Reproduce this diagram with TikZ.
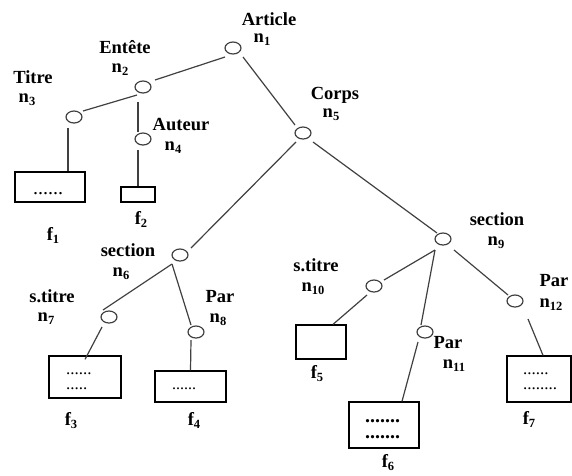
\documentclass[tikz,border=0pt]{standalone}
\usepackage{fontspec}
\setmainfont{Liberation Serif}
\usetikzlibrary{shapes.geometric}

\tikzset{
  vertex/.style={ellipse, draw=black!75, line width=1.2pt,
                 minimum width=16pt, minimum height=12pt, inner sep=0pt},
  leafbox/.style={draw=black, line width=1.3pt, inner sep=0pt},
  edge/.style={draw=black!75, line width=1.2pt},
  lbl/.style={anchor=base, inner sep=0pt,
              font=\fontsize{18.5}{20}\selectfont\bfseries},
  dotfill/.style={anchor=base west, inner sep=0pt,
                  font=\fontsize{#1}{#1}\selectfont},
  dotpair/.style={anchor=west, inner sep=0pt, align=left},
}
% label with a lowered index, e.g. n_1
\newcommand\idx[2]{#1\raisebox{-3.5pt}{\fontsize{12.5}{13}\selectfont #2}}

\begin{document}
\begin{tikzpicture}[x=1pt,y=-1pt]
\useasboundingbox (0,0) rectangle (572,475);

% tree vertices
\node[vertex] (n1)  at (233,48)  {};
\node[vertex] (n2)  at (143,87)  {};
\node[vertex] (n3)  at (74,117)  {};
\node[vertex] (n4)  at (143,139) {};
\node[vertex] (n5)  at (303,133) {};
\node[vertex] (n6)  at (180,255) {};
\node[vertex] (n7)  at (109,317) {};
\node[vertex] (n8)  at (196,332) {};
\node[vertex] (n9)  at (443,239) {};
\node[vertex] (n10) at (374,286) {};
\node[vertex] (n11) at (425,332) {};
\node[vertex] (n12) at (515,301) {};

% leaf contents
\node[leafbox, minimum width=70pt, minimum height=30pt] (f1) at (50,187)    {};
\node[leafbox, minimum width=34pt, minimum height=15pt] (f2) at (138,194.5) {};
\node[leafbox, minimum width=72pt, minimum height=42pt] (f3) at (85,377)    {};
\node[leafbox, minimum width=71pt, minimum height=31pt] (f4) at (190.5,386.5) {};
\node[leafbox, minimum width=50pt, minimum height=34pt] (f5) at (321,342)   {};
\node[leafbox, minimum width=70pt, minimum height=46pt] (f6) at (384,425)   {};
\node[leafbox, minimum width=64pt, minimum height=46pt] (f7) at (539,379)   {};

% dotted text inside the boxes
\node[dotfill=20] (d1) at (33,194)  {......};
\node[dotfill=16] (d4) at (172,389) {......};
\node[dotpair, font=\fontsize{17}{15}\selectfont] (d3) at (66,381)
  {......\\.....};
\node[dotpair, font=\fontsize{20}{16}\selectfont\bfseries] (d6) at (365,429)
  {.......\\.......};
\node[dotpair, font=\fontsize{17}{15}\selectfont] (d7) at (523,381)
  {......\\........};

% tree edges
\draw[edge] ([shift={(-8,9)}]n1.center)  -- ([shift={(12,-7)}]n2.center);
\draw[edge] ([shift={(10,9)}]n1.center)  -- ([shift={(-8,-8)}]n5.center);
\draw[edge] ([shift={(-6,8)}]n2.center)  -- ([shift={(9,-6)}]n3.center);
\draw[edge] ([shift={(-5,15)}]n2.center) -- ([shift={(-5,-7)}]n4.center);
\draw[edge] ([shift={(-7,9)}]n5.center)  -- ([shift={(11,-7)}]n6.center);
\draw[edge] ([shift={(10,9)}]n5.center)  -- ([shift={(-6,-6)}]n9.center);
\draw[edge] ([shift={(-8,9)}]n6.center)  -- ([shift={(-6,-7)}]n7.center);
\draw[edge] ([shift={(-8,9)}]n6.center)  -- ([shift={(-5,-7)}]n8.center);
\draw[edge] ([shift={(-8,11)}]n9.center) -- ([shift={(10,-6)}]n10.center);
\draw[edge] ([shift={(-8,11)}]n9.center) -- ([shift={(-4,-7)}]n11.center);
\draw[edge] ([shift={(11,11)}]n9.center) -- ([shift={(-7,-6)}]n12.center);

% edges down to the leaf boxes
\draw[edge] ([shift={(-6,11)}]n3.center)  -- ([shift={(18,0)}]f1.north);
\draw[edge] ([shift={(-5,11)}]n4.center)  -- (f2.north);
\draw[edge] ([shift={(-7,10)}]n7.center)  -- ([shift={(0,4)}]f3.north);
\draw[edge] ([shift={(-5,8)}]n8.center)   -- (f4.north);
\draw[edge] ([shift={(-7,9)}]n10.center)  -- ([shift={(12,0)}]f5.north);
\draw[edge] ([shift={(-7,10)}]n11.center) -- ([shift={(18,0)}]f6.north);
\draw[edge] ([shift={(13,18)}]n12.center) -- ([shift={(4,0)}]f7.north);

% element names and vertex numbers
\node[lbl] (t1)  at (269,25)  {Article};
\node[lbl] (i1)  at (262,42)  {\idx{n}{1}};
\node[lbl] (t2)  at (125,53)  {Entête};
\node[lbl] (i2)  at (120,72)  {\idx{n}{2}};
\node[lbl] (t3)  at (33,83)   {Titre};
\node[lbl] (i3)  at (27,102)  {\idx{n}{3}};
\node[lbl] (t4)  at (181,130) {Auteur};
\node[lbl] (i4)  at (173,150) {\idx{n}{4}};
\node[lbl] (t5)  at (335,99)  {Corps};
\node[lbl] (i5)  at (331,117) {\idx{n}{5}};
\node[lbl] (t6)  at (128,256) {section};
\node[lbl] (i6)  at (121,276) {\idx{n}{6}};
\node[lbl] (t7)  at (52,302)  {s.titre};
\node[lbl] (i7)  at (46,321)  {\idx{n}{7}};
\node[lbl] (t8)  at (220,302) {Par};
\node[lbl] (i8)  at (218,322) {\idx{n}{8}};
\node[lbl] (t9)  at (497,225) {section};
\node[lbl] (i9)  at (496,245) {\idx{n}{9}};
\node[lbl] (t10) at (316,271) {s.titre};
\node[lbl] (i10) at (313,291) {\idx{n}{10}};
\node[lbl] (t11) at (448,348) {Par};
\node[lbl] (i11) at (454,368) {\idx{n}{11}};
\node[lbl] (t12) at (554,286) {Par};
\node[lbl] (i12) at (551,307) {\idx{n}{12}};

% leaf names
\node[lbl] (l1) at (53,240)  {\idx{f}{1}};
\node[lbl] (l2) at (141,224) {\idx{f}{2}};
\node[lbl] (l3) at (71,425)  {\idx{f}{3}};
\node[lbl] (l4) at (194,425) {\idx{f}{4}};
\node[lbl] (l5) at (317,378) {\idx{f}{5}};
\node[lbl] (l6) at (388,467) {\idx{f}{6}};
\node[lbl] (l7) at (529,424) {\idx{f}{7}};
\end{tikzpicture}
\end{document}
